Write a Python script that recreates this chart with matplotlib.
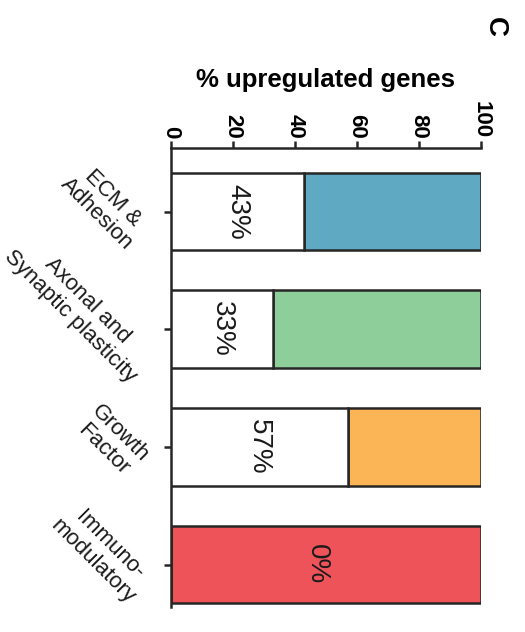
import numpy as np
import matplotlib.pyplot as plt
import matplotlib.transforms as mtransforms

plt.rcParams['font.family'] = ['Liberation Sans', 'DejaVu Sans']

# Data
categories = ["ECM &\nAdhesion", "Axonal and\nSynaptic plasticity", "Growth\nFactor", "Immuno-\nmodulatory"]
pct_up = np.array([43, 33, 57, 0])  # % upregulated genes
colors = ["#5FA9C3", "#8DCE9B", "#FBB556", "#EF535A"]
edge = "#262626"

fig = plt.figure(figsize=(5.25, 6.32), dpi=100)
ax = fig.add_axes([0.3257, 0.0396, 0.5905, 0.7262])

y = np.arange(len(categories))
# white part (upregulated) then colored remainder up to 100
ax.barh(y, pct_up, height=0.66, color="white", edgecolor=edge, linewidth=1.8, zorder=3)
ax.barh(y, 100 - pct_up, left=pct_up, height=0.66, color=colors, edgecolor=edge, linewidth=1.8, zorder=2)

for yi, v in zip(y, pct_up):
    xpos = v / 2 if v > 0 else 47
    ax.text(xpos, yi, f"{v}%", rotation=-90, ha="center", va="center", fontsize=20, color="#1a1a1a", zorder=4)

ax.set_xlim(0, 100)
ax.set_ylim(3.36, -0.54)
ax.xaxis.tick_top()
ax.xaxis.set_label_position("top")
ax.set_xticks([0, 20, 40, 60, 80, 100])
ax.set_xticklabels(["0", "20", "40", "60", "80", "100"], rotation=-90, fontsize=16, fontweight="bold")
ax.set_xlabel("% upregulated genes", fontsize=18.5, fontweight="bold", labelpad=10)
ax.set_yticks(y)
ax.set_yticklabels([])

# slanted category labels, placed by hand so each can be nudged (points)
nudges = [(0, 4), (3, 15), (0, 4), (2, 8)]
for yi, cat, (dx, dy) in zip(y, categories, nudges):
    tr = ax.get_yaxis_transform() + mtransforms.ScaledTranslation((dx - 13) / 72, dy / 72, fig.dpi_scale_trans)
    ax.text(0, yi, cat, transform=tr, rotation=-45, ha="right", va="center", fontsize=16,
            color="#1a1a1a", multialignment="center", linespacing=1.15, clip_on=False)

for s in ["right", "bottom"]:
    ax.spines[s].set_visible(False)
for s in ["top", "left"]:
    ax.spines[s].set_linewidth(1.8)
    ax.spines[s].set_color(edge)
ax.tick_params(axis="both", length=5, width=1.8, color=edge)
ax.tick_params(axis="x", pad=2)

fig.text(0.943, 0.958, "C", rotation=-90, fontsize=20, fontweight="bold", ha="center", va="center")

fig.savefig("out.png", dpi=100)
